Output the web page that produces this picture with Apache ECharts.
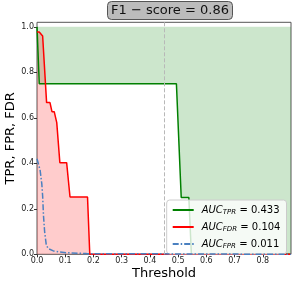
<!DOCTYPE html>
<html>
<head>
<meta charset="utf-8">
<script src="https://cdn.jsdelivr.net/npm/echarts@6/dist/echarts.min.js"></script>
<style>html,body{margin:0;padding:0;background:#fff}#c{width:307px;height:283px}</style>
</head>
<body>
<div id="c"></div>
<script>
// TPR curve
const tprX = [0, 0.008, 0.494, 0.511, 0.538, 0.547, 0.9];
const tprY = [1, 0.75, 0.75, 0.25, 0.25, 0, 0];
// FDR curve
const fdrX = [0, 0.008, 0.013, 0.02, 0.034, 0.046, 0.053, 0.061, 0.07, 0.081, 0.105, 0.117, 0.179, 0.187, 0.9];
const fdrY = [0.977, 0.977, 0.974, 0.96, 0.667, 0.667, 0.627, 0.627, 0.579, 0.403, 0.403, 0.252, 0.252, 0, 0];
// FPR curve
const fprX = [0, 0.011, 0.017, 0.02, 0.023, 0.027, 0.033, 0.04, 0.058, 0.08, 0.105, 0.176, 0.9];
const fprY = [0.42, 0.37, 0.31, 0.256, 0.17, 0.1, 0.04, 0.025, 0.015, 0.01, 0.007, 0.003, 0];
const xTicks = [0, 0.1, 0.2, 0.3, 0.4, 0.5, 0.6, 0.7, 0.8];
const yTicks = [0, 0.2, 0.4, 0.6, 0.8, 1.0];
const threshold = 0.45;
const f1Score = 0.86;
const aucNames = ['TPR', 'FDR', 'FPR'];
const aucValues = [0.433, 0.104, 0.011];

const zip = (xs, ys) => xs.map((x, i) => [x, ys[i]]);
const FONT = 'DejaVu Sans';
const chart = echarts.init(document.getElementById('c'), null, {renderer: 'canvas'});
chart.setOption({
  animation: false,
  textStyle: {fontFamily: FONT},
  title: {
    text: 'F1 − score = ' + f1Score.toFixed(2),
    left: 107, top: 1,
    padding: [2, 4, 2, 4],
    backgroundColor: '#bcbcbc',
    borderColor: '#555',
    borderWidth: 1,
    borderRadius: 4,
    textStyle: {fontFamily: FONT, fontSize: 13, fontWeight: 'normal', color: '#111', lineHeight: 15}
  },
  grid: {left: 37, right: 16, top: 22.3, bottom: 28.7, outerBoundsMode: 'none', containLabel: false,
         show: true, borderColor: '#555', borderWidth: 1, backgroundColor: 'transparent'},
  xAxis: {
    type: 'value', min: 0, max: 0.9,
    name: 'Threshold', nameLocation: 'middle', nameGap: 13, nameMoveOverlap: false,
    nameTextStyle: {fontFamily: FONT, fontSize: 13, color: '#000'},
    axisLine: {show: false},
    axisTick: {show: true, length: 3, lineStyle: {color: '#333'}, customValues: xTicks},
    axisLabel: {fontFamily: FONT, fontSize: 8, color: '#222', margin: 3, customValues: xTicks, formatter: v => v.toFixed(1)},
    splitLine: {show: false}
  },
  yAxis: {
    type: 'value', min: 0, max: 1.02,
    name: 'TPR, FPR, FDR', nameLocation: 'middle', nameGap: 20, nameMoveOverlap: false,
    nameTextStyle: {fontFamily: FONT, fontSize: 13, color: '#000'},
    axisLine: {show: false},
    axisTick: {show: true, length: 3, lineStyle: {color: '#333'}, customValues: yTicks},
    axisLabel: {fontFamily: FONT, fontSize: 8, color: '#222', margin: 3, customValues: yTicks, formatter: v => v.toFixed(1)},
    splitLine: {show: false}
  },
  legend: {
    orient: 'vertical',
    left: 166.7, top: 200,
    padding: [4, 6, 4, 5],
    itemWidth: 21, itemHeight: 10, itemGap: 5,
    backgroundColor: 'rgba(255,255,255,0.8)',
    borderColor: '#cccccc', borderWidth: 1, borderRadius: 3,
    itemStyle: {opacity: 0},
    data: aucNames,
    formatter: n => '{i|AUC}{s|' + n + '}{n| = ' + aucValues[aucNames.indexOf(n)].toFixed(3) + '}',
    textStyle: {
      fontFamily: FONT, color: '#000', padding: [0, 0, 0, 3],
      rich: {
        i: {fontFamily: FONT, fontSize: 10, fontStyle: 'italic', lineHeight: 12},
        s: {fontFamily: FONT, fontSize: 7, fontStyle: 'italic', lineHeight: 12, padding: [5, 0, 0, 0]},
        n: {fontFamily: FONT, fontSize: 10, lineHeight: 12}
      }
    }
  },
  series: [
    {
      name: 'TPR', type: 'line', data: zip(tprX, tprY), symbol: 'none', z: 3,
      lineStyle: {color: '#008000', width: 1.5},
      itemStyle: {color: '#008000'},
      areaStyle: {origin: 1, color: 'rgba(0,128,0,0.2)', opacity: 1},
      markLine: {
        silent: true, symbol: 'none', label: {show: false},
        lineStyle: {color: '#b8b8b8', type: [4, 2], width: 1},
        data: [{xAxis: threshold}]
      }
    },
    {
      name: 'FDR', type: 'line', data: zip(fdrX, fdrY), symbol: 'none', z: 3,
      lineStyle: {color: '#ff0000', width: 1.5},
      itemStyle: {color: '#ff0000'},
      areaStyle: {origin: 0, color: 'rgba(255,0,0,0.2)', opacity: 1}
    },
    {
      name: 'FPR', type: 'line', data: zip(fprX, fprY), symbol: 'none', z: 4,
      lineStyle: {color: '#4a80c0', width: 1.5, type: [6, 2, 1.5, 2]},
      itemStyle: {color: '#4a80c0'}
    }
  ]
});
</script>
</body>
</html>
